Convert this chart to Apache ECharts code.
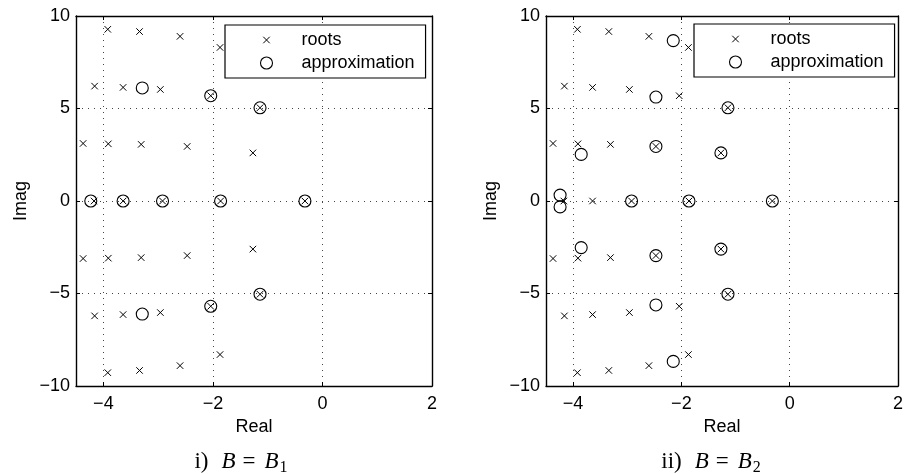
<!DOCTYPE html>
<html><head><meta charset="utf-8">
<script src="https://cdn.jsdelivr.net/npm/echarts@6/dist/echarts.min.js"></script>
<style>html,body{margin:0;padding:0;background:#fff}#c{width:906px;height:474px}</style>
</head><body><div id="c"></div>
<script>
// ---- data ----
const rootsRe = [-4.17, -3.64, -2.92, -1.86, -0.32,
  -3.92, -3.92, -3.34, -3.34, -2.60, -2.60, -1.87, -1.87,
  -4.16, -4.16, -3.64, -3.64, -2.96, -2.96, -2.04, -2.04, -1.14, -1.14,
  -4.37, -4.37, -3.91, -3.91, -3.31, -3.31, -2.47, -2.47, -1.27, -1.27];
const rootsIm = [0, 0, 0, 0, 0,
  9.28, -9.28, 9.16, -9.16, 8.90, -8.90, 8.30, -8.30,
  6.21, -6.21, 6.14, -6.14, 6.03, -6.03, 5.69, -5.69, 5.04, -5.04,
  3.11, -3.11, 3.09, -3.09, 3.06, -3.06, 2.95, -2.95, 2.60, -2.60];
const approx1Re = [-4.23, -3.64, -2.92, -1.86, -0.32, -3.29, -3.29, -2.04, -2.04, -1.14, -1.14];
const approx1Im = [0, 0, 0, 0, 0, 6.11, -6.11, 5.69, -5.69, 5.04, -5.04];
const approx2Re = [-2.92, -1.86, -0.32, -2.15, -2.15, -2.47, -2.47, -1.14, -1.14,
  -3.85, -3.85, -2.47, -2.47, -1.27, -1.27, -4.24, -4.24];
const approx2Im = [0, 0, 0, 8.67, -8.67, 5.62, -5.62, 5.04, -5.04,
  2.52, -2.52, 2.95, -2.95, 2.60, -2.60, 0.32, -0.32];
const xTickLabels = [-4, -2, 0, 2];
const yTickLabels = [-10, -5, 0, 5, 10];
const captionPrefix = ['i)', 'ii)'];
const captionSub = ['1', '2'];
const seriesNames = ['roots', 'approximation'];
const axisNames = ['Real', 'Imag'];

// ---- helpers ----
const pairs = (re, im) => re.map((r, i) => [r, im[i]]);
const fmt = v => (v < 0 ? '\u2212' + Math.abs(v) : String(v));
const FONT = 'Liberation Sans';
const xPath = 'path://M0,0M12,12M2.75,2.75L9.25,9.25M9.25,2.75L2.75,9.25';
const gridLeft = [76, 546];
const grids = gridLeft.map(l => ({ left: l, top: 16, width: 356, height: 370 }));

const xAxes = [], yAxes = [], series = [];
const gridLine = { show: true, lineStyle: { color: '#444', width: 1, type: [1, 5] } };
const axLine = { show: true, onZero: false, lineStyle: { color: '#000', width: 1.4 } };
const tick = { show: true, inside: true, length: 4, lineStyle: { color: '#000' } };
grids.forEach((g, gi) => {
  xAxes.push({
    gridIndex: gi, type: 'value', position: 'bottom', min: -4.5, max: 2, splitNumber: 3,
    axisLine: axLine, axisTick: tick, splitLine: gridLine,
    axisLabel: { show: true, showMinLabel: false, margin: 9, color: '#000', fontSize: 18, fontFamily: FONT,
      formatter: v => (xTickLabels.includes(v) ? fmt(v) : '') },
    name: axisNames[0], nameLocation: 'middle', nameGap: 30,
    nameTextStyle: { color: '#000', fontSize: 18, fontFamily: FONT }
  });
  xAxes.push({
    gridIndex: gi, type: 'value', position: 'top', min: -4.5, max: 2, splitNumber: 3,
    axisLine: axLine, axisTick: tick, splitLine: { show: false }, axisLabel: { show: false }
  });
  yAxes.push({
    gridIndex: gi, type: 'value', position: 'left', min: -10, max: 10, interval: 5,
    axisLine: axLine, axisTick: tick, splitLine: gridLine,
    axisLabel: { margin: 6, color: '#000', fontSize: 18, fontFamily: FONT,
      formatter: v => (yTickLabels.includes(v) ? fmt(v) : '') },
    name: axisNames[1], nameLocation: 'middle', nameGap: 46,
    nameTextStyle: { color: '#000', fontSize: 18, fontFamily: FONT }
  });
  yAxes.push({
    gridIndex: gi, type: 'value', position: 'right', min: -10, max: 10, interval: 5,
    axisLine: axLine, axisTick: tick, splitLine: { show: false }, axisLabel: { show: false }
  });
});

const approx = [pairs(approx1Re, approx1Im), pairs(approx2Re, approx2Im)];
grids.forEach((g, gi) => {
  series.push({
    type: 'scatter', name: seriesNames[0], xAxisIndex: gi * 2, yAxisIndex: gi * 2,
    data: pairs(rootsRe, rootsIm), symbol: xPath, symbolSize: 12,
    itemStyle: { color: 'none', borderColor: '#000', borderWidth: 1, opacity: 1 },
    emphasis: { disabled: true }, z: 3
  });
  series.push({
    type: 'scatter', name: seriesNames[1], xAxisIndex: gi * 2, yAxisIndex: gi * 2,
    data: approx[gi], symbol: 'circle', symbolSize: 12,
    itemStyle: { color: 'none', borderColor: '#000', borderWidth: 1.1, opacity: 1 },
    emphasis: { disabled: true }, z: 4
  });
});

const legendPos = [[225, 25], [694, 24]];
const legends = legendPos.map(p => ({
  left: p[0], top: p[1], orient: 'vertical', itemWidth: 12, itemHeight: 12, itemGap: 5,
  padding: [6, 11, 6, 33], backgroundColor: '#fff', borderColor: '#000', borderWidth: 1.2,
  selectedMode: false,
  textStyle: { color: '#000', fontSize: 18, fontFamily: FONT, lineHeight: 18, padding: [0, 0, 0, 24] },
  data: [
    { name: seriesNames[0], icon: xPath, itemStyle: { color: 'none', borderColor: '#000', borderWidth: 1 } },
    { name: seriesNames[1], icon: 'circle', itemStyle: { color: 'none', borderColor: '#000', borderWidth: 1.1 } }
  ]
}));

const capCenters = [241, 711];
const graphic = capCenters.map((cx, i) => ({
  type: 'text', x: cx, y: 462,
  style: {
    text: '{r|' + captionPrefix[i] + '}{i|B}{e|=}{i|B}{s|' + captionSub[i] + '}',
    align: 'center', verticalAlign: 'middle',
    rich: {
      r: { fontSize: 23, fontFamily: 'Liberation Serif', lineHeight: 28, color: '#000', padding: [0, 13, 0, 0] },
      i: { fontSize: 23, fontFamily: 'Liberation Serif', fontStyle: 'italic', lineHeight: 28, color: '#000' },
      e: { fontSize: 23, fontFamily: 'Liberation Serif', lineHeight: 28, color: '#000', padding: [0, 9, 0, 7] },
      s: { fontSize: 16, fontFamily: 'Liberation Serif', lineHeight: 16, verticalAlign: 'bottom', color: '#000', padding: [0, 0, 0, 1] }
    }
  }
}));

const chart = echarts.init(document.getElementById('c'), null, { renderer: 'canvas' });
chart.setOption({
  animation: false,
  backgroundColor: '#fff',
  grid: grids, xAxis: xAxes, yAxis: yAxes, series: series,
  legend: legends, graphic: graphic, tooltip: { show: false }
});
</script></body></html>
